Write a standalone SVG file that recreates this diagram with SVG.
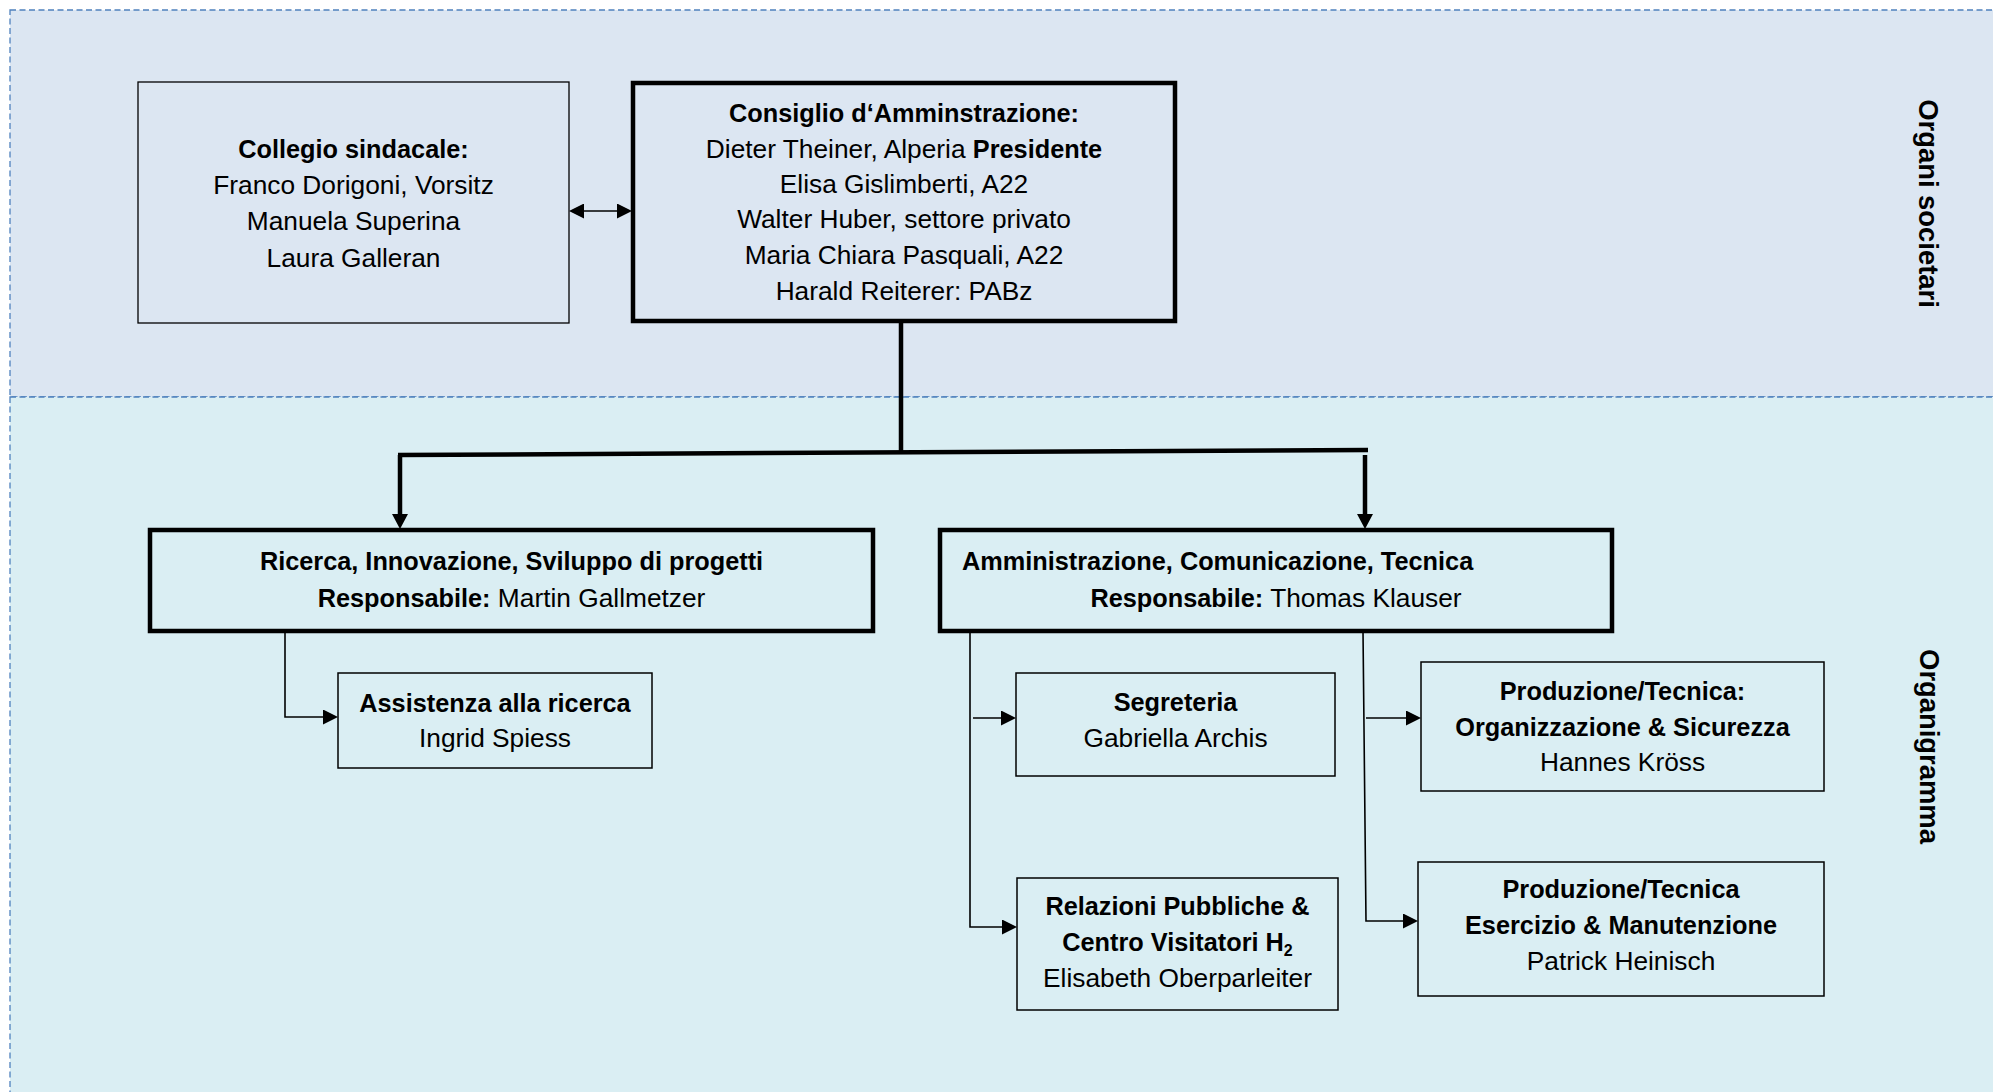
<svg xmlns="http://www.w3.org/2000/svg" width="1993" height="1092" viewBox="0 0 1993 1092">
<style>
.band{stroke:#4F81BD;stroke-width:1.3;stroke-dasharray:6 3.5}
.box{fill:none;stroke:#000;stroke-width:1.5}
.tbox{fill:none;stroke:#000;stroke-width:4.5}
text{font-family:"Liberation Sans",Arial,sans-serif;fill:#000}
.t{font-size:26.3px;text-anchor:middle}
.b{font-weight:bold;font-size:25.3px}
.r{font-weight:normal;font-size:26.3px}
.lab{font-family:"Liberation Sans",Arial,sans-serif;font-weight:bold;font-size:27.4px;text-anchor:middle}
.thick{fill:none;stroke:#000;stroke-width:4.5}
.thin{fill:none;stroke:#000;stroke-width:1.6}
</style>
<defs>
<marker id="ahThick" markerUnits="userSpaceOnUse" markerWidth="15" markerHeight="16" refX="7" refY="8" orient="auto">
<path d="M0,0 L15,8 L0,16 z" fill="#000"/>
</marker>
<marker id="ahThin" markerUnits="userSpaceOnUse" markerWidth="15" markerHeight="15" refX="9" refY="7.5" orient="auto-start-reverse">
<path d="M0,0 L15,7.5 L0,15 z" fill="#000"/>
</marker>
</defs>

<g id="bands">
<rect x="10" y="10" width="2000" height="387" fill="#DCE6F2" class="band"/>
<rect x="10" y="397" width="2000" height="720" fill="#DAEEF3" class="band"/>
<text class="lab" transform="rotate(90 1919 203.5)" x="1919" y="203.5">Organi societari</text>
<text class="lab" transform="rotate(90 1920 746.5)" x="1920" y="746.5">Organigramma</text>
</g>

<g id="connectors">
<path class="thin" d="M575,211 L626,211" marker-start="url(#ahThin)" marker-end="url(#ahThin)"/>
<path class="thick" d="M901,321 L901,453"/>
<path class="thick" d="M398,455 L1368,450"/>
<path class="thick" d="M400,455 L400,521" marker-end="url(#ahThick)"/>
<path class="thick" d="M1365,455 L1365,521" marker-end="url(#ahThick)"/>
<path class="thin" d="M285,633 L285,717 L332,717" marker-end="url(#ahThin)"/>
<path class="thin" d="M970,631 L970,927 L1011,927" marker-end="url(#ahThin)"/>
<path class="thin" d="M973,718 L1010,718" marker-end="url(#ahThin)"/>
<path class="thin" d="M1363,631 L1366,921 L1412,921" marker-end="url(#ahThin)"/>
<path class="thin" d="M1366,718 L1415,718" marker-end="url(#ahThin)"/>
</g>

<g id="collegio">
<rect class="box" x="138" y="82" width="431" height="241" style="stroke-width:1.3"/>
<text class="t" x="353.5" y="158"><tspan class="b">Collegio sindacale:</tspan></text>
<text class="t" x="353.5" y="194">Franco Dorigoni, Vorsitz</text>
<text class="t" x="353.5" y="230">Manuela Superina</text>
<text class="t" x="353.5" y="267">Laura Galleran</text>
</g>

<g id="consiglio">
<rect class="tbox" x="633" y="83" width="542" height="238"/>
<text class="t" x="904" y="122"><tspan class="b">Consiglio d‘Amminstrazione:</tspan></text>
<text class="t" x="904" y="158">Dieter Theiner, Alperia <tspan class="b">Presidente</tspan></text>
<text class="t" x="904" y="193">Elisa Gislimberti, A22</text>
<text class="t" x="904" y="228">Walter Huber, settore privato</text>
<text class="t" x="904" y="264">Maria Chiara Pasquali, A22</text>
<text class="t" x="904" y="300">Harald Reiterer: PABz</text>
</g>

<g id="ricerca">
<rect class="tbox" x="150" y="530" width="723" height="101"/>
<text class="t" x="511.5" y="570"><tspan class="b">Ricerca, Innovazione, Sviluppo di progetti</tspan></text>
<text class="t" x="511.5" y="607"><tspan class="b">Responsabile:</tspan> Martin Gallmetzer</text>
</g>

<g id="amministrazione">
<rect class="tbox" x="940" y="530" width="672" height="101"/>
<text class="b" x="962" y="570">Amministrazione, Comunicazione, Tecnica</text>
<text class="t" x="1276" y="607"><tspan class="b">Responsabile:</tspan> Thomas Klauser</text>
</g>

<g id="assistenza">
<rect class="box" x="338" y="673" width="314" height="95"/>
<text class="t" x="495" y="712"><tspan class="b">Assistenza alla ricerca</tspan></text>
<text class="t" x="495" y="747">Ingrid Spiess</text>
</g>

<g id="segreteria">
<rect class="box" x="1016" y="673" width="319" height="103"/>
<text class="t" x="1175.5" y="711"><tspan class="b">Segreteria</tspan></text>
<text class="t" x="1175.5" y="747">Gabriella Archis</text>
</g>

<g id="produzione1">
<rect class="box" x="1421" y="662" width="403" height="129"/>
<text class="t" x="1622.5" y="700"><tspan class="b">Produzione/Tecnica:</tspan></text>
<text class="t" x="1622.5" y="736"><tspan class="b">Organizzazione &amp; Sicurezza</tspan></text>
<text class="t" x="1622.5" y="771">Hannes Kröss</text>
</g>

<g id="relazioni">
<rect class="box" x="1017" y="878" width="321" height="132"/>
<text class="t" x="1177.5" y="915"><tspan class="b">Relazioni Pubbliche &amp;</tspan></text>
<text class="t" x="1177.5" y="951"><tspan class="b">Centro Visitatori H</tspan><tspan class="b" style="font-size:16px" dy="5">2</tspan></text>
<text class="t" x="1177.5" y="987">Elisabeth Oberparleiter</text>
</g>

<g id="produzione2">
<rect class="box" x="1418" y="862" width="406" height="134"/>
<text class="t" x="1621" y="898"><tspan class="b">Produzione/Tecnica</tspan></text>
<text class="t" x="1621" y="934"><tspan class="b">Esercizio &amp; Manutenzione</tspan></text>
<text class="t" x="1621" y="970">Patrick Heinisch</text>
</g>
</svg>
